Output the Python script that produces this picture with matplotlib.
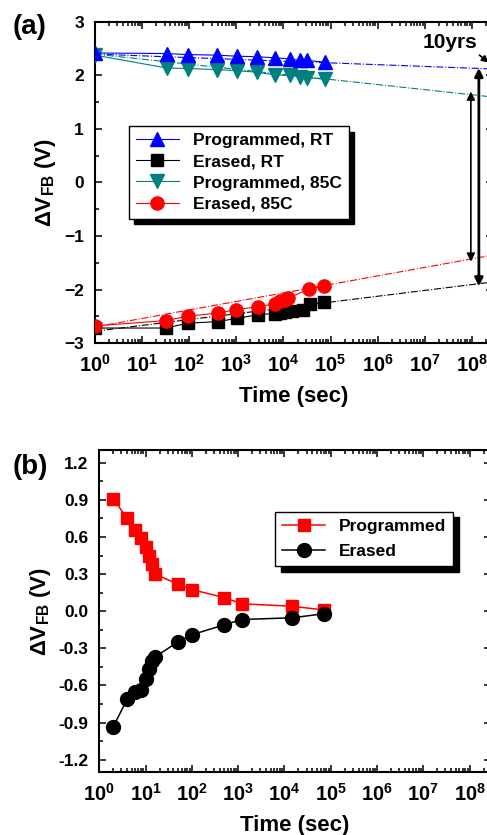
import numpy as np
import matplotlib
matplotlib.use("Agg")
import matplotlib.pyplot as plt
from matplotlib.ticker import LogLocator, MultipleLocator, NullFormatter, FormatStrFormatter

plt.rcParams["font.family"] = ["Liberation Sans", "DejaVu Sans"]
plt.rcParams["font.weight"] = "bold"
plt.rcParams["mathtext.fontset"] = "custom"
plt.rcParams["mathtext.rm"] = "Liberation Sans:bold"
plt.rcParams["mathtext.bf"] = "Liberation Sans:bold"
plt.rcParams["mathtext.it"] = "Liberation Sans:bold"
plt.rcParams["mathtext.default"] = "rm"

# (a) retention, room temperature and 85C
t_prog_rt = [1, 33, 93, 390, 1020, 2800, 6500, 13500, 22400, 32000, 76000]
v_prog_rt = [2.42, 2.41, 2.39, 2.38, 2.36, 2.35, 2.33, 2.31, 2.28, 2.28, 2.25]
t_prog_85 = [1, 33, 93, 390, 1020, 2800, 6500, 13500, 22400, 32000, 76000]
v_prog_85 = [2.38, 2.14, 2.13, 2.11, 2.09, 2.06, 2.01, 2.00, 1.98, 1.96, 1.93]
t_er_rt = [1, 32, 93, 400, 1020, 2850, 6500, 8500, 11000, 15000, 26700, 37000, 74000]
v_er_rt = [-2.72, -2.72, -2.63, -2.60, -2.54, -2.47, -2.45, -2.44, -2.42, -2.41, -2.38, -2.27, -2.24]
t_er_85 = [1, 32, 93, 400, 970, 2850, 6500, 8500, 10800, 12700, 35000, 74000]
v_er_85 = [-2.68, -2.58, -2.50, -2.44, -2.38, -2.32, -2.27, -2.22, -2.19, -2.16, -1.99, -1.93]

# extrapolation lines: value at 1 s and slope per decade
fit_prog_rt = (2.40, -0.033)
fit_prog_85 = (2.40, -0.095)
fit_er_rt = (-2.78, 0.109)
fit_er_85 = (-2.70, 0.159)

# (b) shift after cycling
t_b = [2, 4, 6, 8, 10, 12, 14, 16, 49, 100, 500, 1200, 14800, 72000]
v_b_prog = [0.91, 0.75, 0.66, 0.59, 0.52, 0.45, 0.38, 0.30, 0.22, 0.175, 0.11, 0.06, 0.04, 0.01]
v_b_er = [-0.935, -0.71, -0.65, -0.64, -0.55, -0.47, -0.40, -0.37, -0.25, -0.19, -0.11, -0.067, -0.053, -0.02]

XMAX = 10 ** 8.45
BLUE = "#0000ff"
TEAL = "#008080"
RED = "#ff0000"


def style_axes(ax):
    ax.set_xscale("log")
    ax.set_xlim(1, XMAX)
    ax.xaxis.set_major_locator(LogLocator(base=10, numticks=20))
    ax.xaxis.set_minor_locator(LogLocator(base=10, subs=np.arange(2, 10), numticks=20))
    ax.xaxis.set_minor_formatter(NullFormatter())
    ax.tick_params(which="both", direction="in", top=True, right=True, width=1.1)
    ax.tick_params(which="major", length=5)
    ax.tick_params(which="minor", length=3)
    ax.tick_params(axis="x", labelsize=14.5, pad=8)
    ax.tick_params(axis="y", labelsize=12.5, pad=8)
    for s in ax.spines.values():
        s.set_linewidth(1.5)
    ax.set_xlabel("Time (sec)", fontsize=16, fontweight="bold", labelpad=7)
    ax.set_ylabel(r"ΔV$_{FB}$ (V)", fontsize=16, fontweight="bold", labelpad=4)


fig = plt.figure(figsize=(4.87, 8.35), dpi=100)
ax1 = fig.add_axes([0.1951, 0.5892, 0.8172, 0.3845])
ax2 = fig.add_axes([0.2039, 0.0754, 0.8033, 0.3852])

# ---- panel (a)
tt = np.logspace(0, 8.45, 50)
for (v0, k), c in [(fit_prog_rt, BLUE), (fit_er_rt, "black"), (fit_prog_85, TEAL), (fit_er_85, RED)]:
    ax1.plot(tt, v0 + k * np.log10(tt), color=c, lw=0.8, ls="-.", zorder=2)

ax1.plot(t_prog_rt, v_prog_rt, color=BLUE, lw=0.8, marker="^", ms=10.5, label="Programmed, RT", zorder=4)
ax1.plot(t_er_rt, v_er_rt, color="black", lw=0.8, marker="s", ms=8.5, label="Erased, RT", zorder=3)
ax1.plot(t_prog_85, v_prog_85, color=TEAL, lw=0.8, marker="v", ms=10.5, label="Programmed, 85C", zorder=3)
ax1.plot(t_er_85, v_er_85, color=RED, lw=0.8, marker="o", ms=9.5, label="Erased, 85C", zorder=4)

ax1.set_ylim(-3, 3)
ax1.yaxis.set_major_locator(MultipleLocator(1))
ax1.yaxis.set_minor_locator(MultipleLocator(0.5))
style_axes(ax1)

# window after 10 years
ax1.annotate("", xy=(10 ** 7.98, 1.70), xytext=(10 ** 7.98, -1.48),
             arrowprops=dict(arrowstyle="<|-|>", lw=1.2, color="black",
                             mutation_scale=12, shrinkA=0, shrinkB=0))
ax1.annotate("", xy=(10 ** 8.15, 2.14), xytext=(10 ** 8.15, -1.94),
             arrowprops=dict(arrowstyle="<|-|>", lw=2, color="black",
                             mutation_scale=12, shrinkA=0, shrinkB=0))
ax1.annotate("10yrs", xy=(10 ** 8.36, 2.24), xytext=(10 ** 7.54, 2.61),
             ha="center", va="center", fontsize=15, fontweight="bold",
             arrowprops=dict(arrowstyle="-|>", lw=1.2, color="black", mutation_scale=10,
                             relpos=(0.95, 0.05), shrinkA=0, shrinkB=0))

leg1 = ax1.legend(loc="upper left", bbox_to_anchor=(0.085, 0.676), borderaxespad=0,
                  fontsize=12.5, handlelength=2.5, labelspacing=0.35, fancybox=False,
                  edgecolor="black", framealpha=1,
                  shadow={"color": "black", "alpha": 1, "ox": 4, "oy": -4})
leg1.get_frame().set_linewidth(1.0)

# ---- panel (b)
ax2.plot(t_b, v_b_prog, color=RED, lw=1.1, marker="s", ms=9, label="Programmed", zorder=3)
ax2.plot(t_b, v_b_er, color="black", lw=1.1, marker="o", ms=10, label="Erased", zorder=3)
ax2.set_ylim(-1.3, 1.3)
ax2.yaxis.set_major_locator(MultipleLocator(0.3))
ax2.yaxis.set_minor_locator(MultipleLocator(0.15))
ax2.yaxis.set_major_formatter(FormatStrFormatter("%.1f"))
style_axes(ax2)

leg2 = ax2.legend(loc="upper left", bbox_to_anchor=(0.449, 0.81), borderaxespad=0,
                  fontsize=12.5, handlelength=2.5, labelspacing=0.6, fancybox=False,
                  edgecolor="black", framealpha=1,
                  shadow={"color": "black", "alpha": 1, "ox": 4, "oy": -4})
leg2.get_frame().set_linewidth(1.0)

fig.text(0.025, 0.968, "(a)", fontsize=20, fontweight="bold", va="center")
fig.text(0.025, 0.441, "(b)", fontsize=20, fontweight="bold", va="center")

fig.savefig("out.png", dpi=100)
